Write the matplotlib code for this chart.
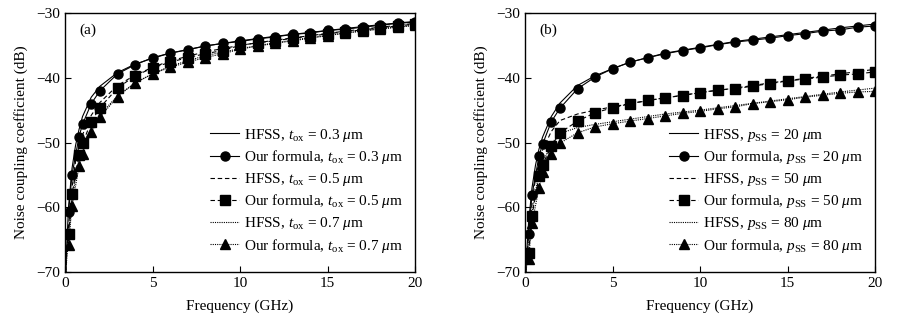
import matplotlib
matplotlib.use("Agg")
import matplotlib.pyplot as plt

plt.rcParams['font.family'] = ['Liberation Serif', 'DejaVu Serif']
plt.rcParams['mathtext.fontset'] = 'custom'
plt.rcParams['mathtext.rm'] = 'Liberation Serif'
plt.rcParams['mathtext.it'] = 'Liberation Serif:italic'
plt.rcParams['font.size'] = 11

# ---------------- data ----------------
f_hfss = [0.05, 0.1, 0.2, 0.4, 0.6, 0.8, 1.0, 1.5, 2, 3, 4, 5, 6, 8, 10, 12, 14, 16, 18, 20]
f_form = [0.2, 0.4, 0.8, 1.0, 1.5, 2, 3, 4, 5, 6, 7, 8, 9, 10, 11, 12, 13, 14, 15, 16, 17, 18, 19, 20]

# panel (a): oxide thickness
a_hfss_03 = [-70, -66, -60.0, -54.0, -50.5, -48.0, -46.0, -43.0, -41.3, -39.2, -37.9, -37.0, -36.2, -35.1, -34.3, -33.6, -33.0, -32.4, -31.8, -31.3]
a_hfss_05 = [-70, -67, -63.0, -57.0, -53.0, -50.5, -48.8, -45.8, -43.8, -41.2, -39.6, -38.4, -37.4, -36.0, -35.0, -34.2, -33.5, -32.8, -32.2, -31.6]
a_hfss_07 = [-70, -68, -65.0, -59.0, -55.5, -52.8, -51.0, -47.8, -45.7, -42.8, -40.8, -39.4, -38.2, -36.6, -35.5, -34.6, -33.8, -33.1, -32.4, -31.9]
a_form_03 = [-60.8, -55.0, -49.1, -47.2, -44.0, -42.0, -39.4, -38.0, -36.9, -36.2, -35.7, -35.1, -34.7, -34.4, -34.0, -33.7, -33.3, -33.1, -32.7, -32.5, -32.2, -31.9, -31.6, -31.4]
a_form_05 = [-64.1, -58.0, -52.0, -50.1, -46.8, -44.6, -41.6, -39.7, -38.5, -37.6, -36.9, -36.3, -35.8, -35.0, -34.6, -34.3, -33.9, -33.6, -33.2, -32.9, -32.6, -32.3, -32.0, -31.7]
a_form_07 = [-65.8, -59.8, -53.7, -51.8, -48.4, -46.1, -42.9, -40.8, -39.4, -38.4, -37.6, -36.9, -36.3, -35.6, -35.1, -34.7, -34.3, -33.9, -33.5, -33.1, -32.8, -32.5, -32.2, -31.9]

# panel (b): substrate spacing
b_hfss_20 = [-70, -67, -62.5, -57.0, -53.5, -51.0, -49.2, -46.0, -43.9, -41.2, -39.7, -38.6, -37.6, -36.2, -35.3, -34.4, -33.7, -33.0, -32.3, -31.7]
b_hfss_50 = [-70, -68, -64.5, -59.5, -55.5, -53.0, -51.2, -48.3, -46.6, -45.6, -45.0, -44.5, -44.0, -43.1, -42.3, -41.6, -40.8, -40.1, -39.4, -38.7]
b_hfss_80 = [-70, -69, -66.0, -61.0, -57.5, -55.0, -53.2, -50.2, -48.6, -47.7, -47.2, -46.8, -46.4, -45.6, -45.0, -44.3, -43.6, -42.9, -42.2, -41.6]
b_form_20 = [-64.1, -58.1, -52.1, -50.3, -46.8, -44.7, -41.7, -39.9, -38.6, -37.6, -36.9, -36.3, -35.8, -35.4, -34.9, -34.5, -34.2, -33.9, -33.5, -33.2, -32.8, -32.6, -32.2, -32.0]
b_form_50 = [-67.0, -61.3, -55.2, -53.5, -50.6, -48.5, -46.7, -45.4, -44.65, -44.0, -43.5, -43.1, -42.75, -42.3, -41.9, -41.7, -41.3, -40.9, -40.5, -40.2, -39.9, -39.6, -39.4, -39.1]
b_form_80 = [-68.0, -62.5, -57.0, -54.5, -51.7, -50.1, -48.5, -47.6, -47.1, -46.7, -46.3, -45.9, -45.5, -45.2, -44.8, -44.5, -44.0, -43.7, -43.4, -43.0, -42.7, -42.4, -42.2, -42.1]

a_params = ["0.3", "0.5", "0.7"]
b_params = ["20", "50", "80"]
x_ticks = [0, 5, 10, 15, 20]
y_ticks = [-70, -60, -50, -40, -30]

# ---------------- style ----------------
styles = ['-', (0, (4, 2.5)), (0, (1, 1))]
markers = ['o', 's', '^']
lw = 0.8
ms = 6.5

fig = plt.figure(figsize=(9.17, 3.22), dpi=100)
axA = fig.add_axes([65/917, 1-272/322, 350/917, 259/322])
axB = fig.add_axes([525/917, 1-272/322, 350/917, 259/322])


def draw(ax, hfss, form, labels_h, labels_f, tag):
    for i in range(3):
        ax.plot(f_hfss, hfss[i], color='black', lw=lw, ls=styles[i], label=labels_h[i])
        ax.plot(f_form, form[i], color='black', lw=lw, ls=styles[i],
                marker=markers[i], ms=ms, label=labels_f[i])
    ax.set_xlim(0, 20)
    ax.set_ylim(-70, -30)
    ax.set_xticks(x_ticks)
    ax.set_yticks(y_ticks)
    ax.tick_params(direction='in', length=4, width=0.8, top=False, right=False, labelsize=11)
    for s in ax.spines.values():
        s.set_linewidth(1.0)
    ax.set_xlabel('Frequency (GHz)', fontsize=11, labelpad=7)
    ax.set_ylabel('Noise coupling coefficient (dB)', fontsize=11, labelpad=6)
    ax.text(0.04, 0.935, tag, transform=ax.transAxes, fontsize=11, va='center', ha='left')
    ax.legend(loc='lower right', bbox_to_anchor=(1.0, 0.02), frameon=False,
              fontsize=11, handlelength=1.9, handletextpad=0.3,
              labelspacing=0.3, borderaxespad=0.4)


labels_ah = [r"HFSS, $t_{\mathrm{ox}}$ = %s $\mu$m" % p for p in a_params]
labels_af = [r"Our formula, $t_{\mathrm{ox}}$ = %s $\mu$m" % p for p in a_params]
labels_bh = [r"HFSS, $p_{\mathrm{SS}}$ = %s $\mu$m" % p for p in b_params]
labels_bf = [r"Our formula, $p_{\mathrm{SS}}$ = %s $\mu$m" % p for p in b_params]

draw(axA, [a_hfss_03, a_hfss_05, a_hfss_07], [a_form_03, a_form_05, a_form_07],
     labels_ah, labels_af, '(a)')
draw(axB, [b_hfss_20, b_hfss_50, b_hfss_80], [b_form_20, b_form_50, b_form_80],
     labels_bh, labels_bf, '(b)')

fig.savefig('out.png', dpi=100)
